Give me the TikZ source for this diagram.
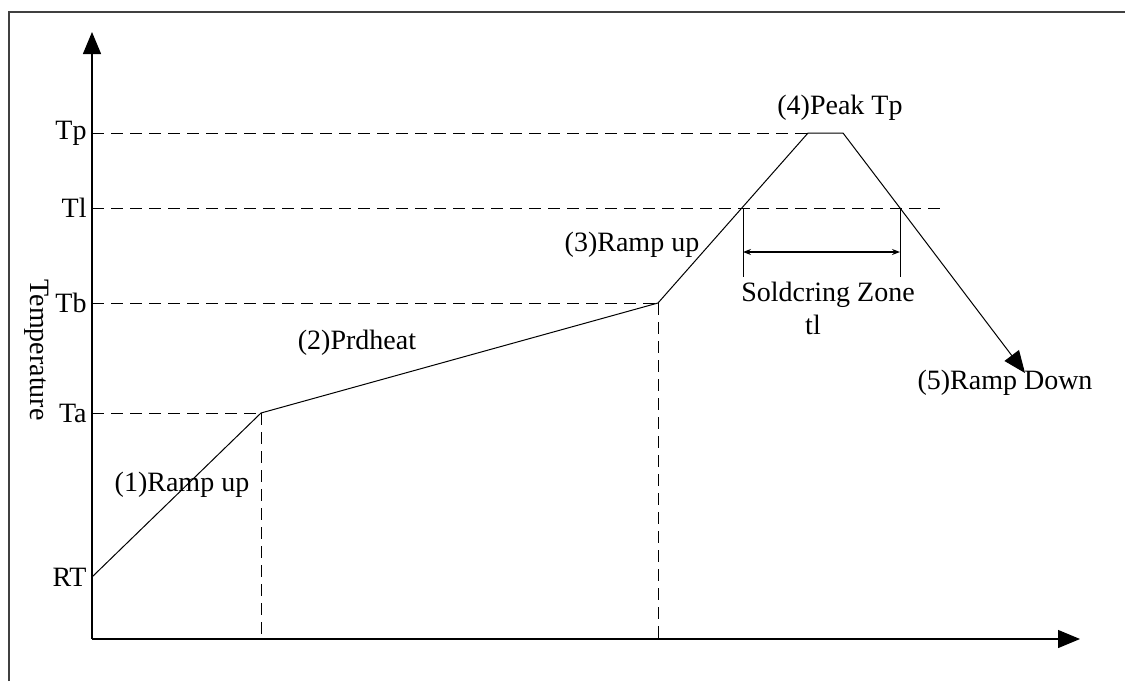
\documentclass[tikz,border=0pt]{standalone}
\usepackage{fontspec}
\setmainfont{Liberation Serif}
\usetikzlibrary{arrows.meta}
\tikzset{
  axis/.style={line width=0.65pt, -{Triangle[length=11pt,width=9pt]}},
  curve/.style={line width=0.5pt},
  guide/.style={line width=0.5pt, dash pattern=on 6pt off 3.5pt},
  lbl/.style={inner sep=0pt, font=\fontsize{14}{16}\selectfont},
  tick/.style={lbl, anchor=east},
  frameline/.style={line width=0.8pt, draw=black!75}
}
\begin{document}
\begin{tikzpicture}[x=0.5pt,y=-0.5pt]
\useasboundingbox (0,0) rectangle (1125,681);
% frame (top and left edges)
\draw[frameline] (9,681) -- (9,12) -- (1125,12);

% key points of the profile
\coordinate (O)  at (92,639);
\coordinate (ytip) at (92,32);
\coordinate (xtip) at (1080,639);
\coordinate (RT) at (92,577);
\coordinate (A)  at (261,413);
\coordinate (B)  at (658,303);
\coordinate (L1) at (743,208);
\coordinate (P1) at (808,133);
\coordinate (P2) at (843,133);
\coordinate (L2) at (900,208);
\coordinate (E)  at (1025,373);
\coordinate (ATp) at (92,133);
\coordinate (ATl) at (92,208);
\coordinate (ATb) at (92,303);
\coordinate (ATa) at (92,413);
\coordinate (TlEnd) at (943,208);
\coordinate (Abase) at (261,639);
\coordinate (Bbase) at (658,639);
\coordinate (Z1) at (743,277);
\coordinate (Z2) at (900,277);
\coordinate (Z1m) at (743,252);
\coordinate (Z2m) at (900,252);

% axes
\draw[axis] (O) -- (ytip);
\draw[axis] (O) -- (xtip);

% guide lines
\draw[guide] (ATp) -- (P1);
\draw[guide] (ATl) -- (TlEnd);
\draw[guide] (ATb) -- (B);
\draw[guide] (ATa) -- (A);
\draw[guide] (A) -- (Abase);
\draw[guide] (B) -- (Bbase);

% temperature profile
\draw[curve] (RT) -- (A) -- (B) -- (P1) -- (P2) -- (L2);
\draw[curve, -{Triangle[length=11pt,width=9pt]}] (L2) -- (E);

% soldering zone
\draw[curve] (L1) -- (Z1);
\draw[curve] (L2) -- (Z2);
\draw[line width=0.6pt, {Stealth[length=4pt,width=3pt]}-{Stealth[length=4pt,width=3pt]}] (Z1m) -- (Z2m);

% axis labels
\node[tick] (tTp) at (87,133) {Tp};
\node[tick] (tTl) at (87,208) {Tl};
\node[tick] (tTb) at (87,303) {Tb};
\node[tick] (tTa) at (87,413) {Ta};
\node[tick] (tRT) at (87,577) {RT};
\node[lbl, rotate=-90] (temp) at (37,350) {Temperature};

% stage labels
\node[lbl] (s1) at (182,485) {(1)Ramp up};
\node[lbl] (s2) at (357,343) {(2)Prdheat};
\node[lbl] (s3) at (632,245) {(3)Ramp up};
\node[lbl] (s4) at (840,108) {(4)Peak Tp};
\node[lbl] (s5) at (1005,383) {(5)Ramp Down};
\node[lbl] (zone) at (828,295) {Soldcring Zone};
\node[lbl] (tl) at (813,325) {tl};
\end{tikzpicture}
\end{document}
